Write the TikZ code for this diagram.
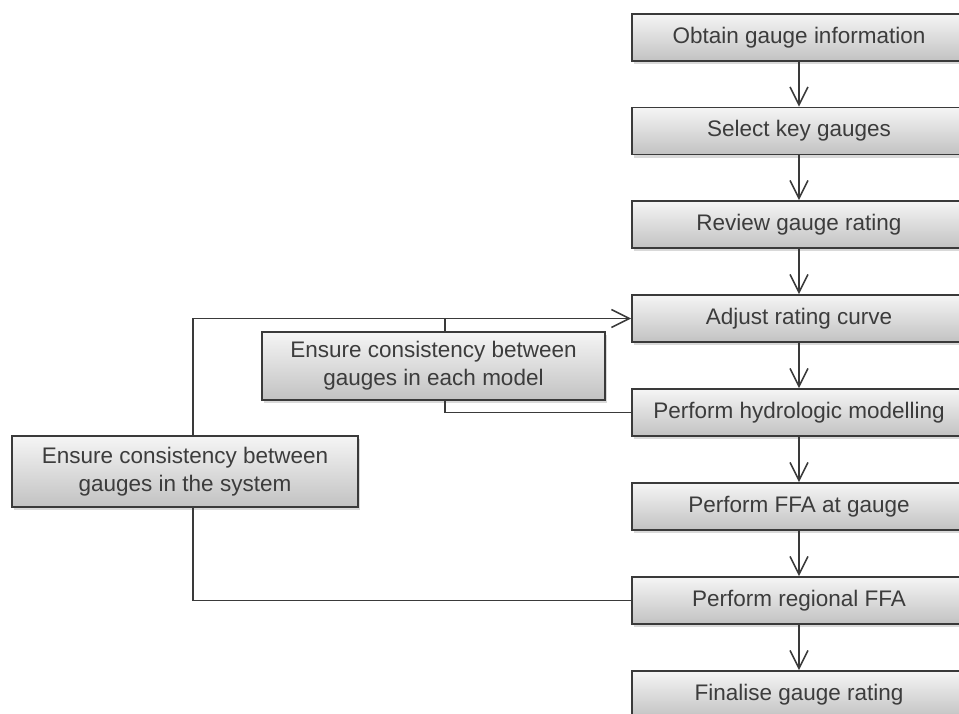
\documentclass[tikz,border=0pt]{standalone}
\usepackage{fontspec}
\setmainfont{Liberation Sans}
\usetikzlibrary{arrows.meta,shadows}
\definecolor{boxedge}{HTML}{3A3A3A}
\definecolor{boxtext}{HTML}{3C3C3C}
\definecolor{boxtop}{HTML}{F5F5F5}
\definecolor{boxbot}{HTML}{C2C2C2}

\begin{document}
\begin{tikzpicture}[x=0.025cm, y=-0.025cm,
    stepbox/.style={draw=boxedge, line width=1.2pt, top color=boxtop, bottom color=boxbot,
      text=boxtext, font=\fontsize{16}{19.9}\selectfont, align=center, inner sep=0pt,
      drop shadow={opacity=0.3, shadow xshift=0.06cm, shadow yshift=-0.08cm}},
    mainbox/.style={stepbox, minimum width=8.35cm, minimum height=1.175cm},
    flow/.style={draw=boxedge, line width=1.1pt},
    tip/.style={-{Straight Barb[length=4.5mm, width=4.5mm]}}]
    \useasboundingbox (0,0) rectangle (959,713);
    \clip (0,0) rectangle (959,713);
    % main column
    \node[mainbox] (obtain) at (799,37.5) {Obtain gauge information};
    \node[mainbox] (select) at (799,131) {Select key gauges};
    \node[mainbox] (review) at (799,224.5) {Review gauge rating};
    \node[mainbox] (adjust) at (799,318.5) {Adjust rating curve};
    \node[mainbox] (hydro) at (799,412.5) {Perform hydrologic modelling};
    \node[mainbox] (ffa) at (799,506.5) {Perform FFA at gauge};
    \node[mainbox] (regional) at (799,600.5) {Perform regional FFA};
    \node[mainbox] (finalise) at (799,694.5) {Finalise gauge rating};
    \draw[flow, tip] (obtain) -- (select);
    \draw[flow, tip] (select) -- (review);
    \draw[flow, tip] (review) -- (adjust);
    \draw[flow, tip] (adjust) -- (hydro);
    \draw[flow, tip] (hydro) -- (ffa);
    \draw[flow, tip] (ffa) -- (regional);
    \draw[flow, tip] (regional) -- (finalise);
    % consistency checks
    \node[stepbox, minimum width=8.575cm, minimum height=1.7cm] (model) at (433.5,366) {Ensure consistency between\\gauges in each model};
    \node[stepbox, minimum width=8.65cm, minimum height=1.775cm] (system) at (185,471.5) {Ensure consistency between\\gauges in the system};
    \coordinate (modelx) at (445,0);
    \coordinate (sysx) at (193,0);
    \draw[flow, tip] (system.north -| sysx) |- (adjust.west);
    \draw[flow] (model.north -| modelx) -- (adjust.west -| modelx);
    \draw[flow] (model.south -| modelx) |- (hydro.west);
    \draw[flow] (system.south -| sysx) |- (regional.west);
\end{tikzpicture}
\end{document}
